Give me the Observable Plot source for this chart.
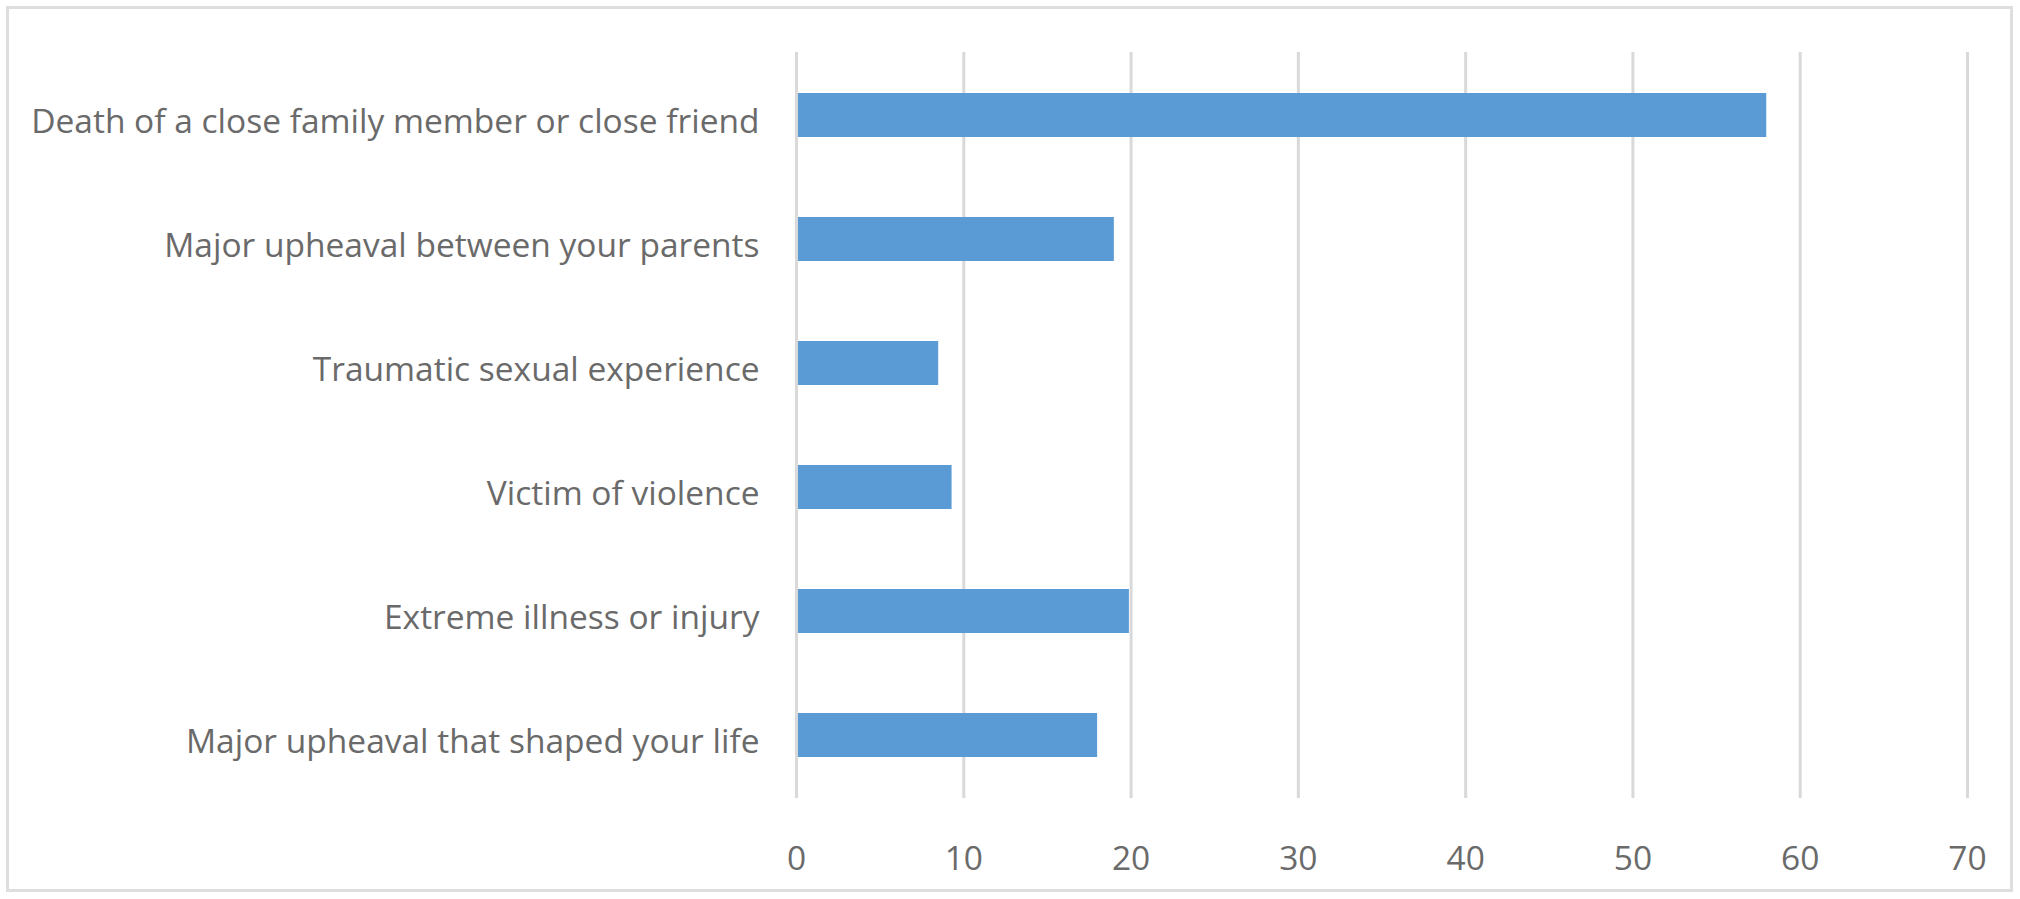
<!DOCTYPE html>
<html>
<head>
<meta charset="utf-8">
<script src="https://cdn.jsdelivr.net/npm/d3@7"></script>
<script src="https://cdn.jsdelivr.net/npm/@observablehq/plot@0.6"></script>
<style>
  html, body { margin: 0; padding: 0; background: #fff; }
  #wrap { position: relative; width: 2020px; height: 899px; overflow: hidden; }
  #border { position: absolute; left: 6px; top: 6px; width: 2007px; height: 886px; box-sizing: border-box; border: 3px solid #dedede; pointer-events: none; }
  #chart { position: absolute; left: 0; top: 0; }
</style>
</head>
<body>
<div id="wrap"><div id="chart"></div><div id="border"></div></div>
<script>
const categories = [
  "Death of a close family member or close friend",
  "Major upheaval between your parents",
  "Traumatic sexual experience",
  "Victim of violence",
  "Extreme illness or injury",
  "Major upheaval that shaped your life"
];
const values = [58, 19, 8.5, 9.3, 19.9, 18];
const xTicks = [0, 10, 20, 30, 40, 50, 60, 70];

const data = categories.map((c, i) => ({category: c, value: values[i]}));

const chart = Plot.plot({
  width: 2020,
  height: 899,
  marginLeft: 796,
  marginRight: 53,
  marginTop: 52,
  marginBottom: 101,
  style: {fontFamily: "'Open Sans', sans-serif", background: "transparent", color: "#6a6a6a"},
  x: {domain: [0, 70], ticks: xTicks},
  y: {domain: categories, paddingInner: 0.645, paddingOuter: 0.3225, align: 0.5},
  marks: [
    Plot.ruleX(xTicks, {stroke: "#d9d9d9", strokeWidth: 3}),
    Plot.barX(data, {x: "value", y: "category", fill: "#5b9bd5", insetLeft: 2}),
    Plot.axisX({ticks: xTicks, tickSize: 0, tickPadding: 48, fontSize: 33.5, label: null, fill: "#6a6a6a"}),
    Plot.axisY({tickSize: 0, tickPadding: 37, dy: 7, fontSize: 33.5, label: null, fill: "#6a6a6a"})
  ]
});
document.getElementById("chart").appendChild(chart);
</script>
</body>
</html>
